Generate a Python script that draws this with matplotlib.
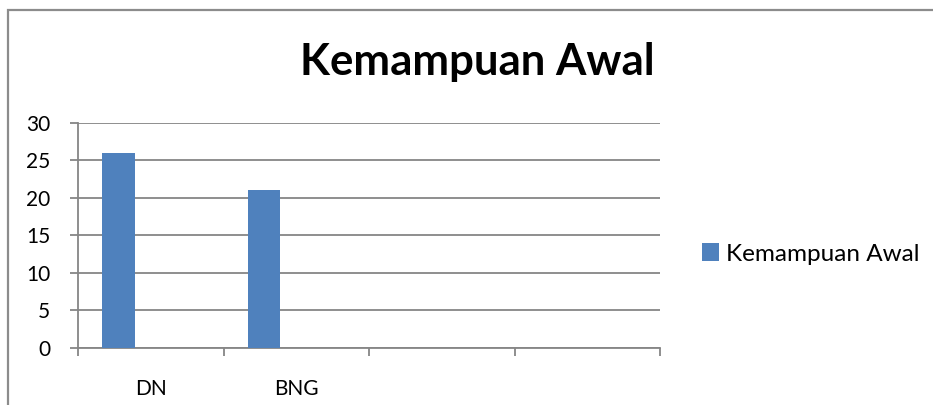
import matplotlib
matplotlib.use("Agg")
import matplotlib.pyplot as plt
from matplotlib.patches import Rectangle
import numpy as np

categories = ["DN", "BNG", "", ""]
values = [26, 21, None, None]
series_name = "Kemampuan Awal"
title = "Kemampuan Awal"
yticks = [0, 5, 10, 15, 20, 25, 30]

W, H = 933, 405
plt.rcParams['font.family'] = ['Lato', 'DejaVu Sans']
fig = plt.figure(figsize=(W / 100, H / 100), dpi=100)
fig.patch.set_facecolor("white")

# chart area border (extends beyond right/bottom of image)
fig.add_artist(Rectangle((8 / W, -0.2), 1.5, (H - 10) / H + 0.2, transform=fig.transFigure,
                         fill=False, edgecolor="#8c8c8c", linewidth=1.6))

ax = fig.add_axes([78 / W, (H - 348) / H, (660 - 78) / W, (348 - 122.7) / H])
bar_color = "#4F81BD"
grid_color = "#868686"
bw = 1 / 4.5
xs = [i + 0.75 * bw + bw / 2 for i in range(len(categories))]
hvals = [v if v is not None else 0 for v in values]
ax.bar(xs, hvals, width=bw, color=bar_color, label=series_name, zorder=3)

ax.set_xlim(0, len(categories))
ax.set_ylim(0, 30)
ax.set_yticks(yticks)
ax.set_yticklabels([str(t) for t in yticks])
ax.yaxis.grid(True, color=grid_color, linewidth=1.3, zorder=0)
ax.set_axisbelow(True)

ax.set_xticks(np.arange(0, len(categories) + 1))
ax.set_xticklabels([])
ax.set_xticks(np.arange(len(categories)) + 0.5, minor=True)
ax.set_xticklabels(categories, minor=True)
ax.tick_params(axis="x", which="major", length=6, width=1.3, color=grid_color, direction="out")
ax.tick_params(axis="x", which="minor", length=0, pad=22, labelsize=15)
ax.tick_params(axis="y", length=6, width=1.3, color=grid_color, direction="out", pad=14, labelsize=15)

for s in ["top", "right"]:
    ax.spines[s].set_visible(False)
for s in ["left", "bottom"]:
    ax.spines[s].set_color(grid_color)
    ax.spines[s].set_linewidth(1.3)

fig.text(477 / W, (H - 62) / H, title, ha="center", va="center", fontsize=31.5, fontweight="bold")

fig.legend(loc="center left", bbox_to_anchor=(680 / W, (H - 254) / H), bbox_transform=fig.transFigure,
           frameon=False, fontsize=17.5, handlelength=0.7, handleheight=0.7, handletextpad=0.3)

fig.savefig("out.png", dpi=100, facecolor="white")
